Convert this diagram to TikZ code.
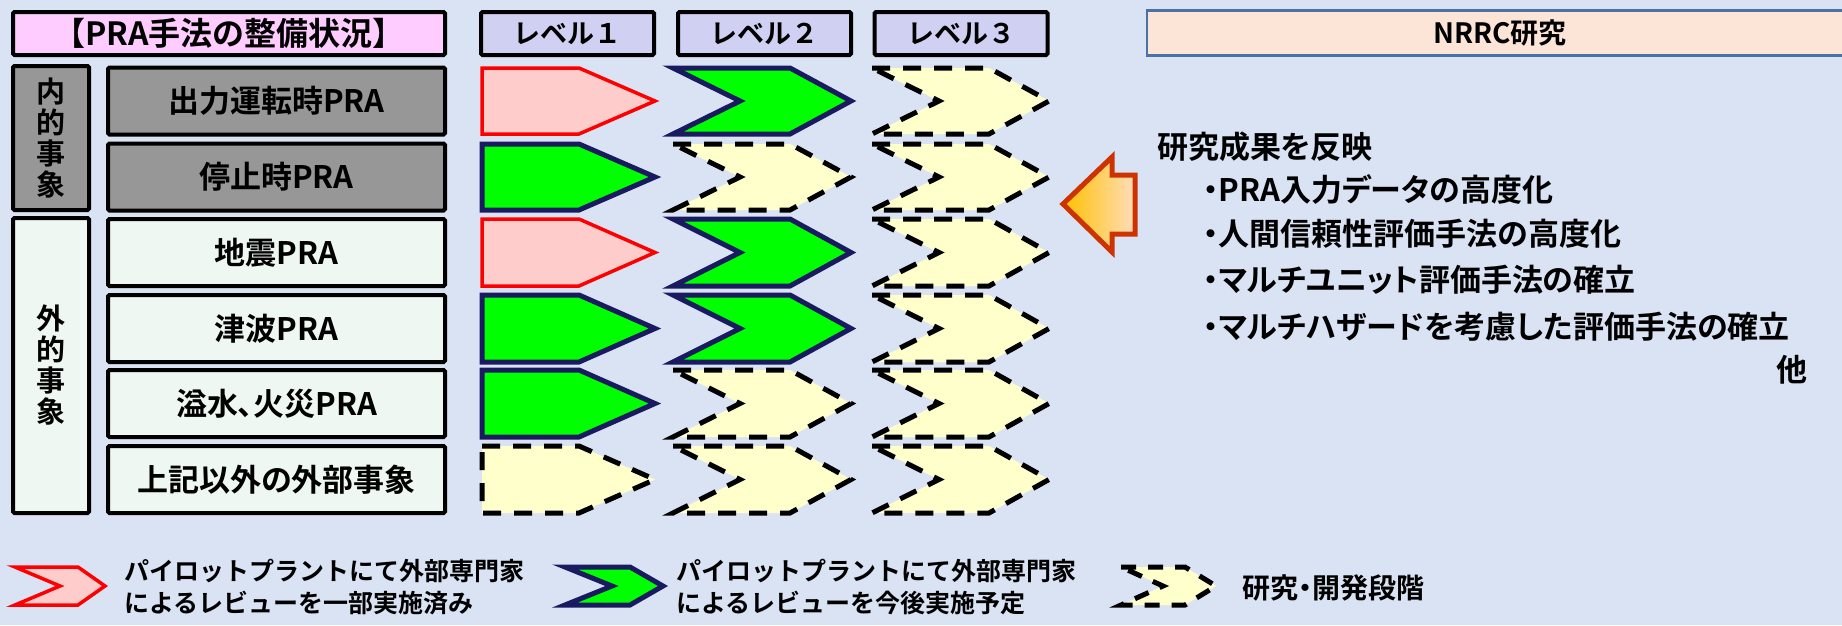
\documentclass[tikz,border=0pt]{standalone}
\usepackage{fontspec}
\setmainfont{Noto Sans CJK JP}[BoldFont={Noto Sans CJK JP Bold}]
\newfontfamily\jpp{Noto Sans CJK JP Bold}[RawFeature=+palt]
\definecolor{bg}{HTML}{DAE3F3}
\definecolor{titlepink}{HTML}{FFCCFF}
\definecolor{lvlblue}{HTML}{D0D0F2}
\definecolor{intgray}{HTML}{979797}
\definecolor{extmint}{HTML}{EEF7F2}
\definecolor{redfill}{HTML}{FFCCCC}
\definecolor{navyline}{HTML}{1A1A60}
\definecolor{brightgreen}{HTML}{00FF00}
\definecolor{cream}{HTML}{FFFFCC}
\definecolor{nrrcfill}{HTML}{FCE4D6}
\definecolor{nrrcline}{HTML}{4A72A6}
\definecolor{arrowline}{HTML}{CC3300}
\definecolor{arrowleft}{HTML}{FFC000}
\definecolor{arrowright}{HTML}{FFDDBB}
\newcommand\pentashape[3]{\draw[#1] (482,#2) -- (579,#2) -- (655,{(#2+#3)/2}) -- (579,#3) -- (482,#3) -- cycle;}
\newcommand\chevshape[7]{\draw[#1] (#2,#6) -- (#4,#6) -- (#5,{(#6+#7)/2}) -- (#4,#7) -- (#2,#7) -- (#3,{(#6+#7)/2}) -- cycle;}
\newcommand\colB[3]{\chevshape{#1}{673}{740}{790}{851}{#2}{#3}}
\newcommand\colC[3]{\chevshape{#1}{872}{939}{989}{1049}{#2}{#3}}
\begin{document}
\begin{tikzpicture}[x=1pt,y=-1pt,
  every node/.style={font=\bfseries},
  hdr/.style={draw=black, line width=4pt, rounded corners=1.5pt, inner sep=0pt},
  titlebox/.style={hdr, fill=titlepink, minimum width=432pt, minimum height=43pt, font=\bfseries\fontsize{32}{34}\selectfont},
  lvl/.style={hdr, fill=lvlblue, minimum width=173pt, minimum height=43pt, font=\bfseries\fontsize{27}{30}\selectfont},
  rowint/.style={hdr, fill=intgray, minimum width=337pt, minimum height=67pt, font=\jpp\fontsize{31}{34}\selectfont},
  rowext/.style={rowint, fill=extmint},
  side/.style={hdr, minimum width=76pt, align=center, font=\bfseries\fontsize{29}{31}\selectfont},
  redP/.style={fill=redfill, draw=red, line width=3.5pt, line join=miter},
  greenP/.style={fill=brightgreen, draw=navyline, line width=5pt, line join=miter},
  dashP/.style={fill=cream, draw=black, line width=5pt, dash pattern=on 18pt off 13pt},
  dashL/.style={fill=cream, draw=black, line width=5pt, dash pattern=on 15pt off 12pt},
  righttext/.style={anchor=west, inner sep=0pt, font=\jpp\fontsize{31}{34}\selectfont},
  legtext/.style={anchor=west, inner sep=0pt, align=left, font=\bfseries\fontsize{25}{32}\selectfont}
]
\path[use as bounding box, fill=bg] (0,0) rectangle (1842,625);

% headers
\node[titlebox] (title) at (229,33.5) {【PRA手法の整備状況】};
\node[lvl] (lv1) at (567.5,33.5) {レベル１};
\node[lvl] (lv2) at (764.5,33.5) {レベル２};
\node[lvl] (lv3) at (961,33.5) {レベル３};
\node[draw=nrrcline, line width=2.5pt, fill=nrrcfill, minimum width=706pt, minimum height=45pt, inner sep=0pt,
      font=\bfseries\fontsize{28}{30}\selectfont] (nrrc) at (1500,33) {NRRC研究};

% side labels
\node[side, fill=intgray, minimum height=144pt] (internal) at (51,138) {内\\的\\事\\象};
\node[side, fill=extmint, minimum height=295pt] (external) at (51,365.5) {外\\的\\事\\象};

% rows
\node[rowint] (r1) at (276.5,101) {出力運転時PRA};
\node[rowint] (r2) at (276.5,177) {停止時PRA};
\node[rowext] (r3) at (276.5,252.5) {地震PRA};
\node[rowext] (r4) at (276.5,328.5) {津波PRA};
\node[rowext] (r5) at (276.5,403.5) {溢水、火災PRA};
\node[rowext] (r6) at (276.5,479.5) {上記以外の外部事象};

% level 1
\pentashape{redP}{68}{134}
\pentashape{greenP}{144}{210}
\pentashape{redP}{219}{286}
\pentashape{greenP}{295}{362}
\pentashape{greenP}{370}{437}
\pentashape{dashP}{446}{513}
% level 2
\colB{greenP}{68}{134}
\colB{dashP}{144}{210}
\colB{greenP}{219}{286}
\colB{greenP}{295}{362}
\colB{dashP}{370}{437}
\colB{dashP}{446}{513}
% level 3
\colC{dashP}{68}{134}
\colC{dashP}{144}{210}
\colC{dashP}{219}{286}
\colC{dashP}{295}{362}
\colC{dashP}{370}{437}
\colC{dashP}{446}{513}

% big arrow
\draw[line width=5pt, draw=arrowline, left color=arrowleft, right color=arrowright, line join=miter]
  (1063,204) -- (1112,157) -- (1112,175) -- (1135,175) -- (1135,234) -- (1112,234) -- (1112,252) -- cycle;

% right text
\node[righttext] (res) at (1157,147) {研究成果を反映};
\node[righttext] (b1) at (1203,189) {・PRA入力データの高度化};
\node[righttext] (b2) at (1203,234) {・人間信頼性評価手法の高度化};
\node[righttext] (b3) at (1203,280) {・マルチユニット評価手法の確立};
\node[righttext] (b4) at (1203,327) {・マルチハザードを考慮した評価手法の確立};
\node[righttext, anchor=east] (etc) at (1808,370) {他};

% legend
\chevshape{redP}{15}{60}{78}{105}{567}{605}
\node[legtext] (leg1) at (124,587) {パイロットプラントにて外部専門家\\によるレビューを一部実施済み};
\chevshape{greenP}{565}{612}{630}{663}{567}{605}
\node[legtext] (leg2) at (676,587) {パイロットプラントにて外部専門家\\によるレビューを今後実施予定};
\chevshape{dashL}{1121}{1163}{1185}{1216}{567}{605}
\node[legtext, font=\jpp\fontsize{28}{30}\selectfont] (leg3) at (1242,588) {研究・開発段階};
\end{tikzpicture}
\end{document}
